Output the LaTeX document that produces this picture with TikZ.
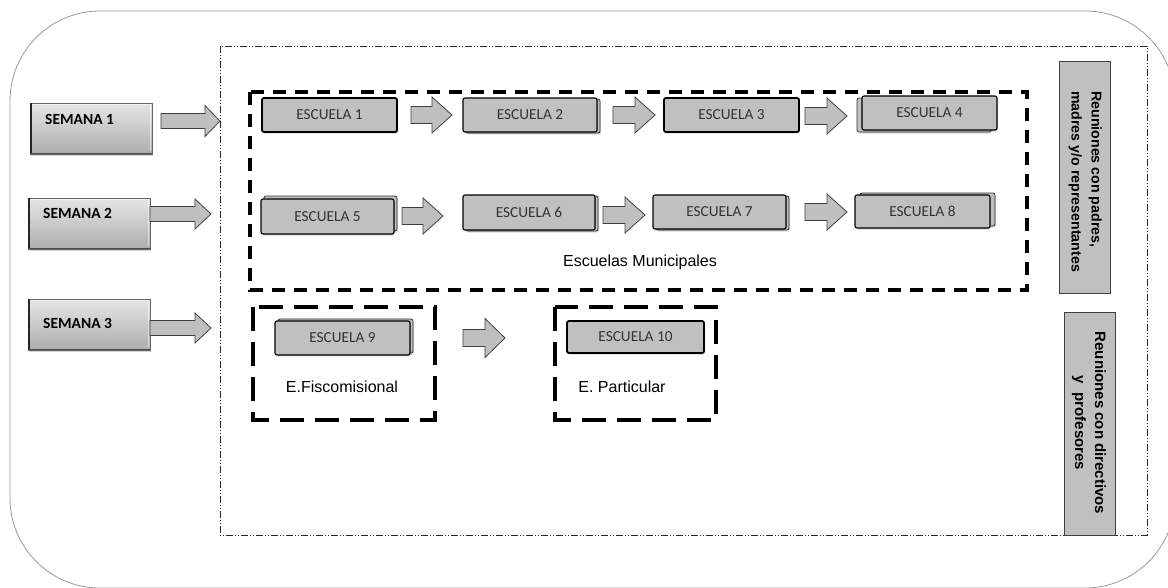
\documentclass[tikz,border=0pt]{standalone}
\usepackage{fontspec}
\setmainfont{Liberation Sans}
\newfontfamily\calfont{Carlito}
\usetikzlibrary{shadows}
\definecolor{boxgray}{RGB}{192,192,192}
\definecolor{arrgray}{RGB}{191,191,191}
\tikzset{
  esc/.style={draw=black, line width=1.1pt, fill=boxgray, rounded corners=2pt,
    font=\calfont\fontsize{15.3}{17}\selectfont, text=black!80, inner sep=0pt,
    drop shadow={shadow xshift=1pt, shadow yshift=-1.5pt, opacity=0.3}},
  escthick/.style={esc, line width=1.8pt},
  escback/.style={draw=black!80, line width=0.8pt, fill=boxgray, rounded corners=2pt,
    drop shadow={shadow xshift=1pt, shadow yshift=-1.5pt, opacity=0.3}},
  blockarr/.style={draw=black!75, line width=0.8pt, fill=arrgray},
  semana/.style={draw=black!60, line width=0.6pt, top color=black!10, bottom color=black!32,
    drop shadow={shadow xshift=1pt, shadow yshift=-2pt, opacity=0.35}},
  semtext/.style={font=\calfont\bfseries\fontsize{15.5}{17}\selectfont, anchor=west, inner sep=0pt},
  groupbox/.style={draw=black, line width=3.5pt, dash pattern=on 13pt off 9pt},
  smallgroup/.style={draw=black, line width=3.5pt, dash pattern=on 24pt off 11pt},
  frame/.style={draw=black!85, line width=0.9pt,
    dash pattern=on 7pt off 2pt on 1pt off 2pt on 1pt off 2pt},
  sidebox/.style={draw=black!75, line width=0.9pt, fill=boxgray},
  sidetext/.style={font=\bfseries\fontsize{15}{20}\selectfont, rotate=-90, inner sep=0pt},
  caption/.style={font=\fontsize{16}{18}\selectfont, inner sep=0pt}
}
% block arrow: x1, x2, y, half head height, half shaft height, head length
\newcommand\blockarrow[6]{%
  \draw[blockarr] (#1,#3-#5) -- (#2-#6,#3-#5) -- (#2-#6,#3-#4) -- (#2,#3)
    -- (#2-#6,#3+#4) -- (#2-#6,#3+#5) -- (#1,#3+#5) -- cycle;}
% bevelled week button: x1, y1, x2, y2
\newcommand\weekbox[4]{%
  \path[semana] (#1,#2) rectangle (#3,#4);
  \draw[black!85, line width=2.5pt] (#1+1,#2) -- (#1+1,#4);
  \draw[black!70, line width=1.6pt] (#1,#4-0.5) -- (#3,#4-0.5);
  \draw[white, opacity=0.5, line width=0.8pt] (#1+3,#2+1.5) -- (#3-1.5,#2+1.5) -- (#3-1.5,#4-3);}
\begin{document}
\begin{tikzpicture}[x=1pt, y=-1pt]
\useasboundingbox (0,0) rectangle (1168,587);

% outer rounded frame
\draw[black!40, line width=0.8pt, rounded corners=90pt] (10,11) rectangle (1175,588);

% dash-dot frame around the schools
\path[frame] (220,46) rectangle (1147,535);

% weeks
\weekbox{30}{103}{152}{154}
\node[semtext] (s1) at (45,119) {SEMANA 1};
\weekbox{28}{198}{150}{249}
\node[semtext] (s2) at (43,213) {SEMANA 2};
\weekbox{28}{299}{150}{350}
\node[semtext] (s3) at (43,323) {SEMANA 3};

\blockarrow{161}{220}{121}{15.5}{7.5}{15}
\blockarrow{150}{211}{214}{15}{7.5}{16}
\blockarrow{150}{211}{328}{15}{7.5}{16}

% municipal schools
\path[groupbox] (250,92) rectangle (1027,290);
\node[caption] (mun) at (640,262) {Escuelas Municipales};

% row 1
\node[escthick, minimum width=135pt, minimum height=34pt] (e1) at (329.5,115) {ESCUELA 1};
\draw[escback] (466,99) rectangle (600,133);
\node[esc, minimum width=134pt, minimum height=34pt] (e2) at (530,115) {ESCUELA 2};
\node[escthick, minimum width=135pt, minimum height=34pt] (e3) at (731.5,115) {ESCUELA 3};
\draw[escback] (857,98) rectangle (991,132);
\node[esc, minimum width=135pt, minimum height=34pt] (e4) at (929.5,113) {ESCUELA 4};

\blockarrow{411}{452}{115}{18}{8.5}{20}
\blockarrow{613}{655}{115}{18}{8.5}{20}
\blockarrow{805}{847}{116}{18}{8.5}{20}

% row 2
\draw[escback] (264,196) rectangle (397,231);
\node[esc, minimum width=133pt, minimum height=35pt] (e5) at (327.5,216.5) {ESCUELA 5};
\draw[escback] (466,196) rectangle (598,231);
\node[esc, minimum width=132pt, minimum height=35pt] (e6) at (529,212.5) {ESCUELA 6};
\draw[escback] (656,196) rectangle (789,230);
\node[esc, minimum width=133pt, minimum height=34pt] (e7) at (719.5,212) {ESCUELA 7};
\draw[escback] (860,193) rectangle (995,226);
\node[esc, minimum width=135pt, minimum height=33pt] (e8) at (922.5,211.5) {ESCUELA 8};

\blockarrow{402}{443}{216}{18}{8.5}{20}
\blockarrow{603}{645}{215}{18}{8.5}{20}
\blockarrow{805}{847}{212}{18}{8.5}{20}

% other schools
\path[smallgroup] (253,307) rectangle (435,420);
\draw[escback] (278,319) rectangle (413,353);
\node[esc, minimum width=135pt, minimum height=34pt] (e9) at (342.5,338) {ESCUELA 9};
\node[caption] (fis) at (342,387) {E.Fiscomisional};

\blockarrow{463}{505}{338}{19.5}{8.5}{20}

\path[smallgroup] (555,307) rectangle (716,420);
\node[escthick, minimum width=137pt, minimum height=32pt] (e10) at (635.5,337) {ESCUELA 10};
\node[caption] (par) at (622,387) {E. Particular};

% meeting labels
\path[sidebox] (1059,61) rectangle (1110,293);
\node[sidetext, font=\bfseries\fontsize{14.2}{20}\selectfont, align=left, anchor=north west]
  (r1) at (1102,91) {Reuniones con padres,\\madres y/o representantes};
\path[sidebox] (1064,312) rectangle (1115,535);
\node[sidetext, align=center] (r2) at (1089,423)
  {Reuniones con directivos\\y\ \ profesores};
\end{tikzpicture}
\end{document}
